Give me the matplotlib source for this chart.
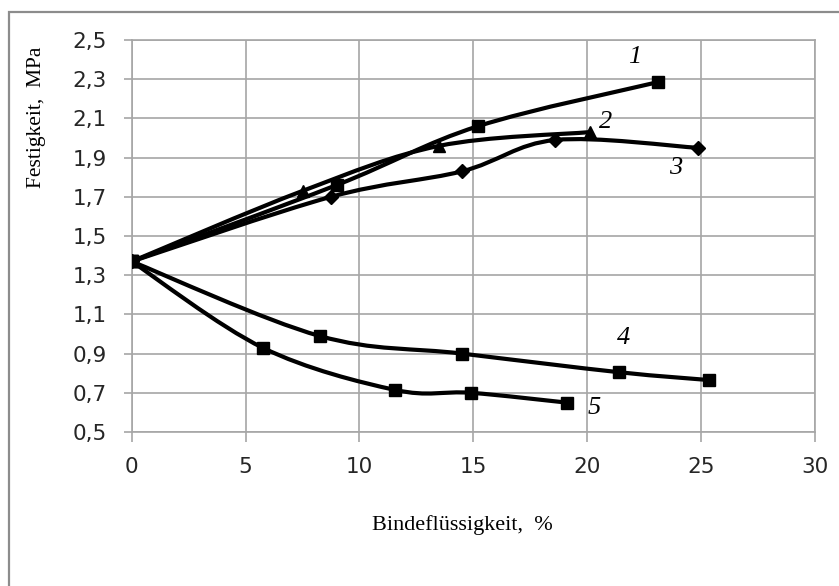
import matplotlib
matplotlib.use("Agg")
import matplotlib.pyplot as plt
from matplotlib.path import Path
from matplotlib.patches import PathPatch, Rectangle
from matplotlib.ticker import FuncFormatter

# Messpunkte
x1 = [0, 9.0, 15.2, 23.1]
y1 = [1.37, 1.76, 2.06, 2.285]
x2 = [0, 7.5, 13.5, 20.1]
y2 = [1.37, 1.73, 1.96, 2.03]
x3 = [0, 8.75, 14.5, 18.6, 24.85]
y3 = [1.37, 1.70, 1.83, 1.99, 1.95]
x4 = [0, 8.25, 14.5, 21.4, 25.35]
y4 = [1.37, 0.99, 0.90, 0.805, 0.765]
x5 = [0, 5.75, 11.55, 14.9, 19.1]
y5 = [1.37, 0.93, 0.715, 0.70, 0.65]

kurven = [(x1, y1, "s", 8.5), (x2, y2, "^", 9), (x3, y3, "D", 7),
          (x4, y4, "s", 8.5), (x5, y5, "s", 8.5)]

nummern = ["1", "2", "3", "4", "5"]
num_x = [22.1, 20.8, 23.9, 21.6, 20.3]
num_y = [2.415, 2.083, 1.845, 0.978, 0.62]


def glatte_linie(xs, ys):
    # geglaettete Linie wie in Excel (Bezier durch die Punkte)
    pts = list(zip(xs, ys))
    n = len(pts)
    verts = [pts[0]]
    codes = [Path.MOVETO]
    for i in range(n - 1):
        p0 = pts[i - 1] if i > 0 else pts[i]
        p1 = pts[i]
        p2 = pts[i + 1]
        p3 = pts[i + 2] if i + 2 < n else pts[i + 1]
        c1 = (p1[0] + (p2[0] - p0[0]) / 6, p1[1] + (p2[1] - p0[1]) / 6)
        c2 = (p2[0] - (p3[0] - p1[0]) / 6, p2[1] - (p3[1] - p1[1]) / 6)
        verts += [c1, c2, p2]
        codes += [Path.CURVE4] * 3
    return Path(verts, codes)


fig = plt.figure(figsize=(8.39, 5.86), dpi=100)
ax = fig.add_axes([131.7 / 839, 1 - 432 / 586, (815 - 131.7) / 839, (432 - 40) / 586])

grau = "#a6a6a6"
ax.set_xlim(0, 30)
ax.set_ylim(0.5, 2.5)
ax.set_xticks(range(0, 31, 5))
ax.set_yticks([0.5 + 0.2 * i for i in range(11)])
ax.yaxis.set_major_formatter(FuncFormatter(lambda v, p: ("%.1f" % v).replace(".", ",")))
ax.grid(True, color=grau, lw=1.2)
for s in ax.spines.values():
    s.set_color(grau)
    s.set_linewidth(1.2)
ax.tick_params(axis="y", color=grau, width=1.2, length=6, pad=12)
ax.tick_params(axis="x", color=grau, width=1.2, length=7, pad=11)
for lab in ax.get_xticklabels() + ax.get_yticklabels():
    lab.set_fontfamily("DejaVu Sans")
    lab.set_fontsize(15.5)
    lab.set_color("#262626")

for xs, ys, m, ms in kurven:
    ax.add_patch(PathPatch(glatte_linie(xs, ys), fill=False, ec="black", lw=3,
                           capstyle="round", joinstyle="round", zorder=3))
    ax.plot(xs, ys, ls="none", marker=m, ms=ms, color="black", zorder=4)

for t, tx, ty in zip(nummern, num_x, num_y):
    ax.text(tx, ty, t, fontsize=19, fontfamily="Liberation Serif", style="italic",
            ha="center", va="center", zorder=5)

fig.text(462 / 839, 1 - 525 / 586, "Bindeflüssigkeit,  %", fontsize=16,
         fontfamily="Liberation Serif", ha="center", va="center")
fig.text(37 / 839, 1 - 117 / 586, "Festigkeit,  MPa", fontsize=15.5,
         fontfamily="Liberation Serif", ha="center", va="center", rotation=90)

fig.add_artist(Rectangle((9 / 839, -0.02), 1.0, 1 - 12 / 586 + 0.02,
                         transform=fig.transFigure, fill=False, ec="#8c8c8c", lw=1.6))

fig.savefig("out.png", dpi=100)
